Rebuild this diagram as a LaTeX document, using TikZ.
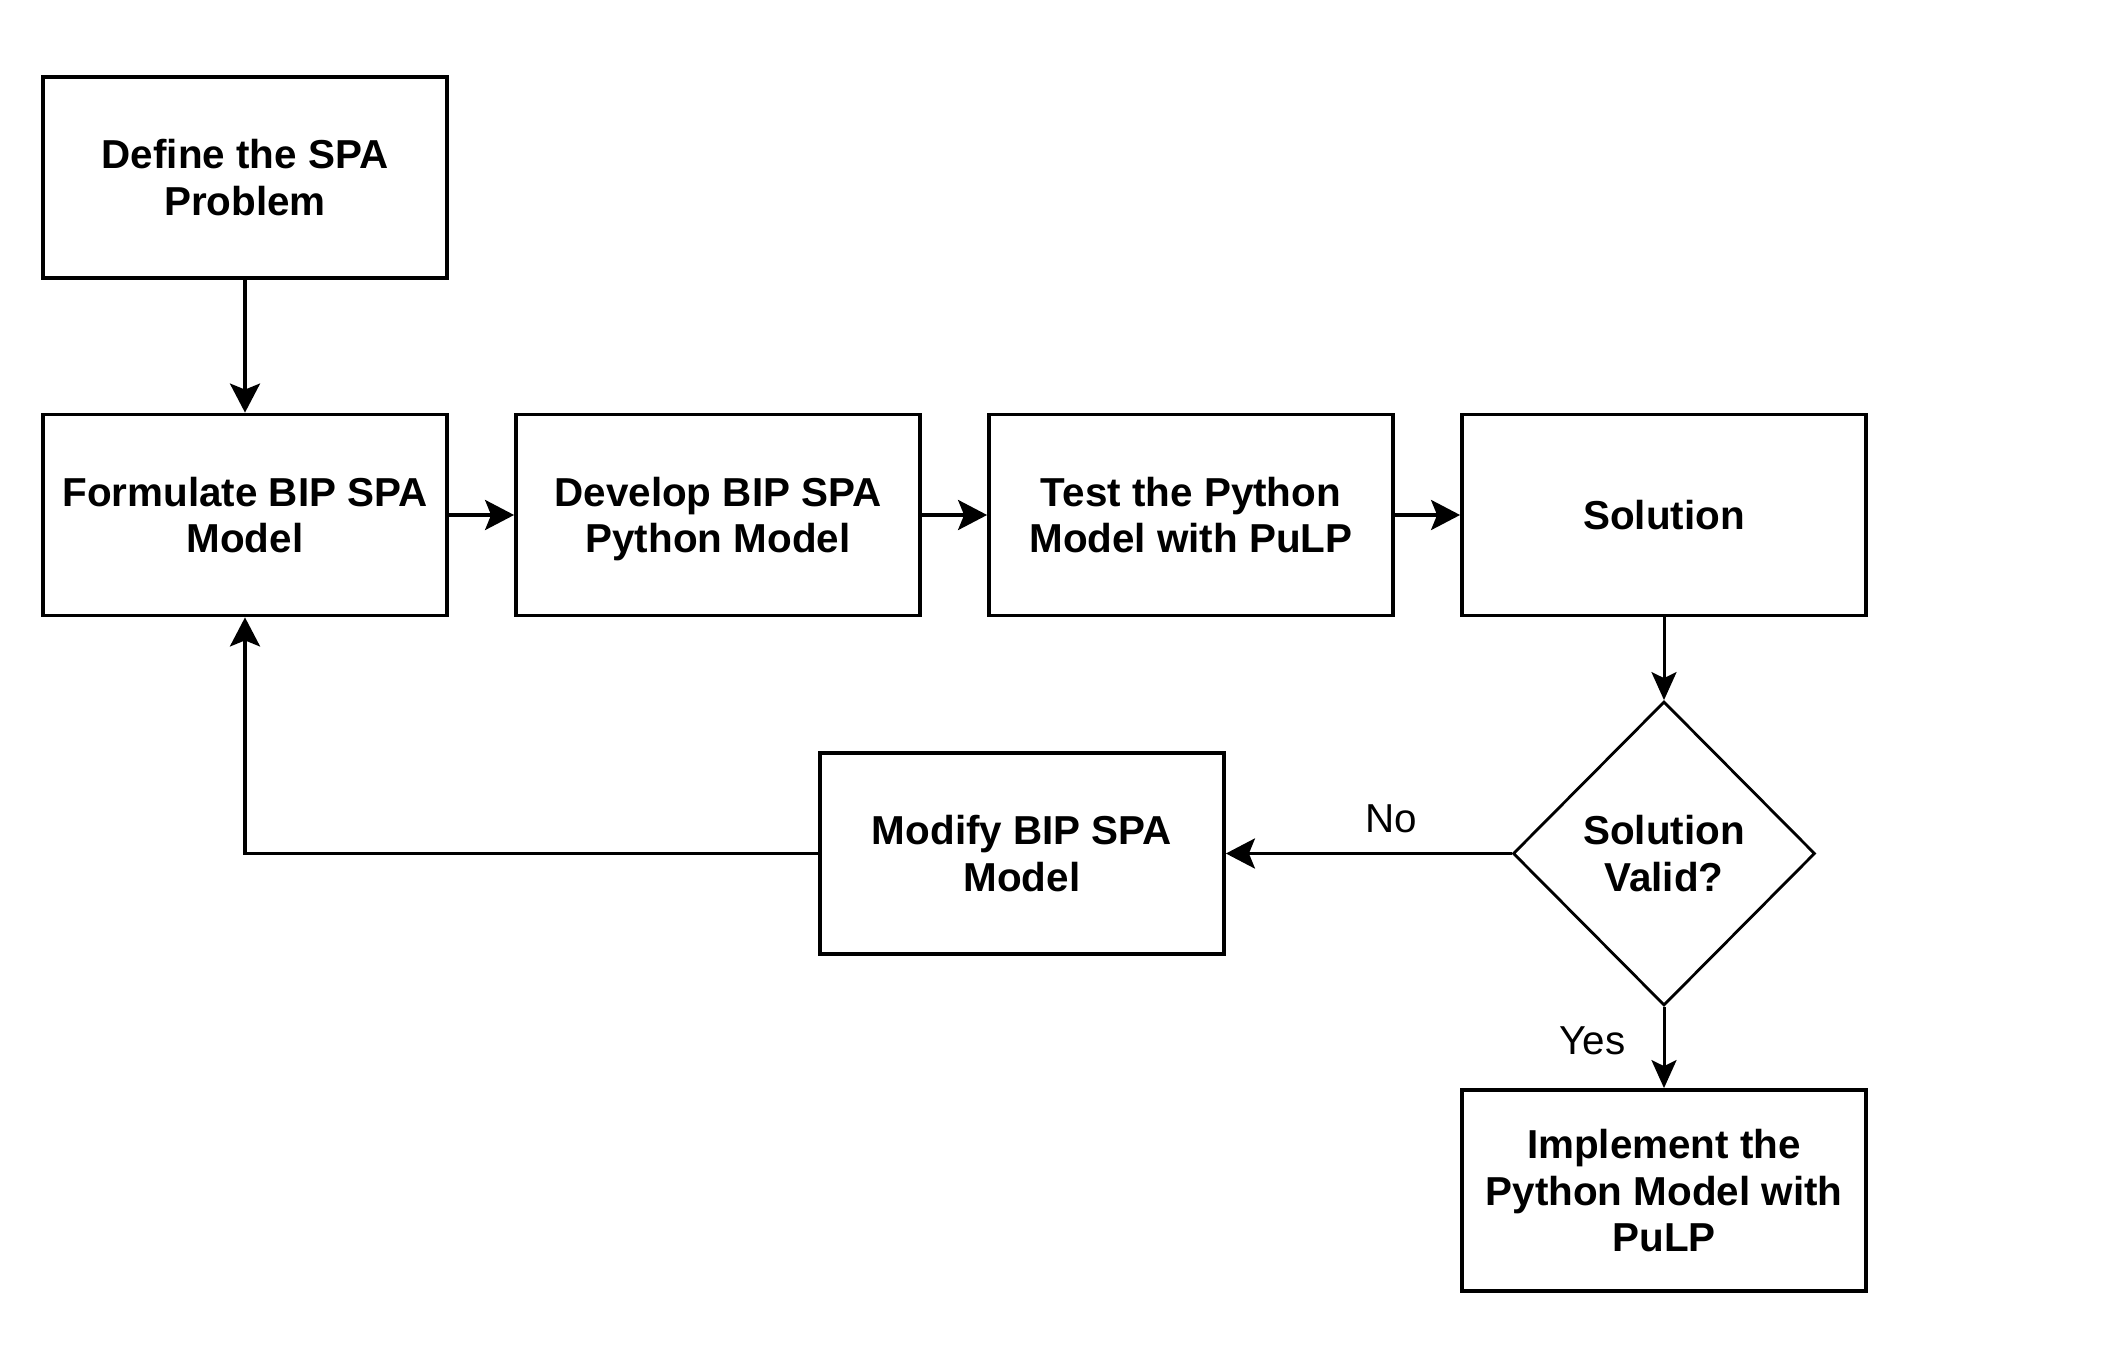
\documentclass[tikz,border=0pt]{standalone}
\usepackage{fontspec}
\setmainfont{Liberation Sans}
\usetikzlibrary{arrows.meta,shapes.geometric}
\tikzset{
  box/.style={draw, line width=1.9pt, minimum width=202pt, minimum height=100.5pt,
    inner sep=0pt, align=center, text depth=0pt,
    font=\fontsize{20.2pt}{23.25pt}\selectfont\bfseries},
  decision/.style={draw, diamond, line width=1.4pt, minimum width=151pt, minimum height=152pt,
    inner sep=0pt, align=center, text depth=0pt,
    font=\fontsize{20.2pt}{23.25pt}\selectfont\bfseries},
  thickarr/.style={line width=1.8pt, -{Stealth[length=14.5pt,width=15pt,inset=3pt]}},
  thinarr/.style={line width=1.5pt, -{Stealth[length=14pt,width=12.5pt,inset=3pt]}},
  lbl/.style={inner sep=0pt, font=\fontsize{20.2pt}{23.25pt}\selectfont},
}
\begin{document}
\begin{tikzpicture}[x=0.5pt,y=-0.5pt]
\useasboundingbox (0,0) rectangle (2106,1364);
\node[box] (define) at (245,177.5) {Define the SPA\\Problem};
\node[box] (formulate) at (245,515) {Formulate BIP SPA\\Model};
\node[box] (develop) at (718,515) {Develop BIP SPA\\Python Model};
\node[box] (test) at (1191,515) {Test the Python\\Model with PuLP};
\node[box] (solution) at (1664,515) {Solution};
\node[decision] (valid) at (1664,853.5) {Solution\\Valid?};
\node[box] (modify) at (1022,853.5) {Modify BIP SPA\\Model};
\node[box] (implement) at (1664,1190.5) {Implement the\\Python Model with\\PuLP};

\draw[thickarr] (define.south) -- (formulate.north);
\draw[thickarr] (formulate.east) -- (develop.west);
\draw[thickarr] (develop.east) -- (test.west);
\draw[thickarr] (test.east) -- (solution.west);
\draw[thinarr] (solution.south) -- (valid.north);
\draw[thickarr] (valid.west) -- node[lbl, pos=0.42, above=9.5pt] {No} (modify.east);
\draw[thickarr] (modify.west) -| (formulate.south);
\draw[thinarr] (valid.south) -- node[lbl, pos=0.42, left=18.5pt] {Yes} (implement.north);
\end{tikzpicture}
\end{document}
